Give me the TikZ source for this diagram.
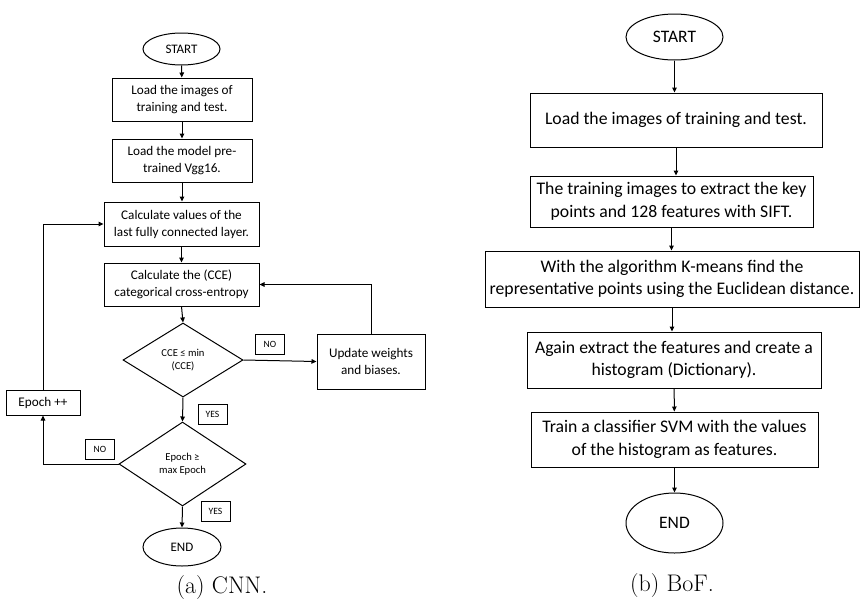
\documentclass[tikz,border=0pt]{standalone}
\usepackage{fontspec}
\newfontfamily\carlitofont{Carlito}
\usetikzlibrary{shapes.geometric,arrows.meta}
\begin{document}
\begin{tikzpicture}[x=1pt,y=-1pt,
  line width=1pt,
  arr/.style={-{Triangle[length=5pt,width=4.5pt]}},
  boxL/.style={draw, rectangle, inner sep=0pt, align=center, font=\carlitofont\fontsize{13.2}{17}\selectfont},
  boxR/.style={draw, rectangle, inner sep=0pt, align=center, font=\carlitofont\fontsize{17.7}{22.5}\selectfont},
  termL/.style={draw, ellipse, inner sep=0pt, font=\carlitofont\fontsize{13}{15}\selectfont},
  termR/.style={draw, ellipse, inner sep=0pt, font=\carlitofont\fontsize{17.5}{20}\selectfont},
  dec/.style={draw, diamond, inner sep=0pt, align=center, font=\carlitofont\fontsize{10.6}{13}\selectfont},
  lab/.style={draw, rectangle, inner sep=0pt, minimum width=29pt, minimum height=20pt, font=\carlitofont\fontsize{9.6}{11}\selectfont},
  captext/.style={font=\fontsize{24}{27}\selectfont}
]
\useasboundingbox (0,0) rectangle (865,603);
% ---------- left: CNN ----------
\node[termL, minimum width=77pt, minimum height=32pt] (s1) at (181.5,49) {START};
\node[boxL, minimum width=140pt, minimum height=43pt] (a1) at (182,99.5) {Load the images of\\training and test.};
\node[boxL, minimum width=140pt, minimum height=43pt] (a2) at (182,160.5) {Load the model pre-\\trained Vgg16.};
\node[boxL, minimum width=155pt, minimum height=44pt] (a3) at (181.5,224) {Calculate values of the\\last fully connected layer.};
\node[boxL, minimum width=155pt, minimum height=43pt] (a4) at (181.5,284.5) {Calculate the (CCE)\\categorical cross-entropy};
\node[dec, minimum width=120pt, minimum height=74pt] (d1) at (183,360) {CCE ≤ min\\(CCE)};
\node[boxL, minimum width=108pt, minimum height=55pt] (upd) at (371,361.5) {Update weights\\and biases.};
\node[boxL, minimum width=74pt, minimum height=25pt] (ep) at (43,402.5) {Epoch ++};
\node[dec, minimum width=127pt, minimum height=84pt] (d2) at (182.5,464) {Epoch ≥\\max Epoch};
\node[termL, minimum width=78pt, minimum height=38pt] (e1) at (182,547) {END};
\node[lab] (no1) at (270,344) {NO};
\node[lab] (yes1) at (212.5,414) {YES};
\node[lab] (no2) at (100,449.5) {NO};
\node[lab] (yes2) at (215.5,511) {YES};
\draw[arr] (s1) -- (a1);
\draw[arr] (a1) -- (a2);
\draw[arr] (a2.south) -- (a2.south |- a3.north);
\draw[arr] (a3) -- (a4);
\draw[arr] (a4.south) -- (d1.north);
\draw[arr] (d1.east) -- (upd.west);
\draw[arr] (upd.north) |- (a4.east);
\draw[arr] (d1.south) -- (d2.north);
\draw[arr] (d2.west) -| (ep.south);
\draw[arr] (ep.north) |- (a3.west);
\draw[arr] (d2.south) -- (e1.north);
\node[captext] (c1) at (222,588) {(a) CNN.};
% ---------- right: BoF ----------
\node[termR, minimum width=97pt, minimum height=46pt] (s2) at (674.5,37) {START};
\node[boxR, minimum width=292pt, minimum height=54pt] (b1) at (676,120) {\raisebox{4pt}{Load the images of training and test.}};
\node[boxR, minimum width=283pt, minimum height=51pt] (b2) at (671.5,201.5) {The training images to extract the key\\points and 128 features with SIFT.};
\node[boxR, minimum width=374pt, minimum height=56pt] (b3) at (672,279) {With the algorithm K-means find the\\representative points using the Euclidean distance.};
\node[boxR, minimum width=294pt, minimum height=56pt] (b4) at (674,360) {Again extract the features and create a\\histogram (Dictionary).};
\node[boxR, minimum width=287pt, minimum height=55pt] (b5) at (674.5,439.5) {Train a classifier SVM with the values\\of the histogram as features.};
\node[termR, minimum width=97pt, minimum height=60pt] (e2) at (674.5,523) {END};
\draw[arr] (s2) -- (s2 |- b1.north);
\draw[arr] (b1.south) -- (b1.south |- b2.north);
\draw[arr] (b2.south) -- (b2.south |- b3.north);
\draw[arr] (b3.south) -- (b3.south |- b4.north);
\draw[arr] (b4) -- (b5);
\draw[arr] (b5) -- (e2);
\node[captext] (c2) at (672,586) {(b) BoF.};
\end{tikzpicture}
\end{document}
